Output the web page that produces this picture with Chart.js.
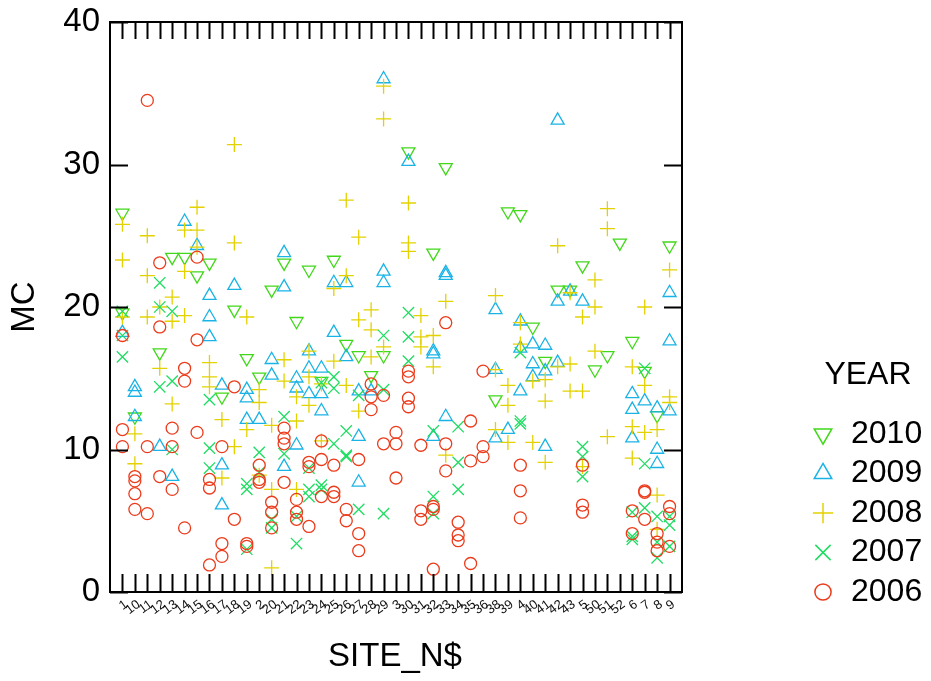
<!DOCTYPE html>
<html>
<head>
<meta charset="utf-8">
<script src="https://cdn.jsdelivr.net/npm/chart.js@4.4.1/dist/chart.umd.min.js"></script>
<style>
  html, body { margin: 0; padding: 0; background: #fff; }
  canvas { display: block; }
</style>
</head>
<body>
<canvas id="c" width="931" height="681" style="width:931px;height:681px"></canvas>
<script>
// Site codes in the order they appear along the axis (string sort)
const sites = ['1','10','11','12','13','14','15','16','17','18','19','2','20','21','22','23','24','25','26','27','28','29','3','30','31','32','33','34','35','36','38','39','4','40','41','42','43','5','50','51','52','6','7','8','9'];
const yTicks = [0, 10, 20, 30, 40];
const years = ['2010', '2009', '2008', '2007', '2006'];

// MC readings per year: [site, value]
const mc2010 = [['1',26.6],['1',19.6],['10',12.3],['12',16.8],['13',23.5],['14',23.5],['15',22.2],['16',23.1],['17',13.7],['18',19.8],['19',16.4],['2',15.1],['20',21.2],['21',23.1],['22',19.0],['23',22.6],['24',14.8],['25',23.3],['26',17.4],['27',16.6],['28',15.2],['29',16.6],['30',30.9],['32',23.8],['33',29.8],['38',13.5],['39',26.7],['4',26.5],['40',18.6],['41',16.2],['42',21.2],['43',21.2],['5',22.9],['50',15.6],['51',16.6],['52',24.5],['6',17.6],['7',15.5],['8',12.4],['9',24.3]];

const mc2009 = [['1',18.2],['10',14.4],['10',14.0],['10',12.3],['12',10.2],['13',8.1],['14',26.0],['15',24.3],['16',20.8],['16',19.3],['16',17.9],['17',14.5],['17',8.9],['17',6.1],['18',21.5],['19',14.2],['19',13.6],['19',12.1],['2',12.1],['20',16.3],['20',15.2],['21',23.8],['21',21.4],['21',8.8],['22',15.0],['22',14.3],['22',10.3],['23',16.9],['23',15.7],['23',13.9],['24',15.7],['24',13.9],['24',12.7],['25',21.7],['25',18.2],['26',21.7],['26',16.5],['27',14.1],['27',10.9],['27',7.7],['28',14.1],['29',36.0],['29',22.5],['29',21.7],['30',30.2],['32',16.9],['32',16.7],['32',10.9],['33',22.4],['33',22.2],['33',12.3],['38',19.8],['38',15.6],['38',10.8],['39',11.4],['4',19.0],['4',17.1],['4',14.1],['40',17.4],['40',16.0],['40',15.1],['41',17.3],['41',15.5],['41',10.2],['42',33.1],['42',20.4],['42',16.1],['43',21.1],['5',20.4],['6',13.9],['6',12.8],['6',10.8],['7',13.4],['8',12.9],['8',10.0],['8',9.0],['9',21.0],['9',17.6],['9',12.7]];

const mc2008 = [['1',25.8],['1',23.3],['1',19.3],['10',11.1],['10',9.0],['11',25.0],['11',22.2],['11',19.3],['12',20.0],['12',15.7],['13',20.7],['13',19.0],['13',13.2],['14',25.4],['14',22.5],['14',19.4],['15',27.0],['15',25.4],['15',24.2],['16',16.1],['16',15.1],['16',14.4],['17',12.1],['17',8.0],['18',31.4],['18',24.5],['18',10.2],['19',19.3],['19',11.4],['2',14.2],['2',13.3],['2',8.2],['20',11.7],['20',7.2],['20',1.7],['21',16.3],['21',14.8],['22',13.7],['22',12.0],['22',7.2],['23',16.9],['23',15.1],['23',13.1],['24',14.6],['24',10.6],['25',21.3],['25',16.2],['26',27.5],['26',22.2],['26',14.5],['27',24.9],['27',19.1],['27',12.7],['28',19.8],['28',18.4],['28',16.5],['29',35.5],['29',33.2],['29',17.2],['30',27.3],['30',24.5],['30',23.9],['31',19.4],['31',17.9],['31',17.2],['32',18.0],['32',15.8],['33',20.4],['33',9.6],['38',20.8],['38',15.6],['38',11.4],['39',14.5],['39',13.1],['39',10.5],['4',18.9],['4',17.4],['40',14.8],['40',10.5],['41',14.9],['41',13.4],['41',9.1],['42',24.3],['42',15.8],['43',21.0],['43',16.0],['43',14.1],['5',19.3],['5',14.1],['5',8.8],['50',21.9],['50',20.0],['50',16.9],['51',26.9],['51',25.5],['51',10.9],['6',15.8],['6',11.6],['6',9.4],['7',20.0],['7',14.5],['7',11.2],['8',11.4],['8',6.8],['8',4.4],['9',22.6],['9',13.7],['9',13.3]];

const mc2007 = [['1',19.7],['1',18.0],['1',16.5],['12',21.7],['12',20.0],['12',14.4],['13',19.7],['13',14.8],['13',10.0],['16',13.5],['16',10.1],['16',8.7],['19',7.6],['19',7.2],['19',3.0],['2',9.8],['2',8.4],['20',5.1],['20',4.5],['21',12.3],['21',9.7],['22',5.3],['22',3.4],['23',8.7],['23',7.2],['23',6.7],['24',14.7],['24',7.5],['24',7.2],['25',15.1],['25',14.3],['25',10.4],['26',11.3],['26',9.6],['26',9.5],['27',13.8],['27',5.8],['29',18.0],['29',14.2],['29',5.5],['30',19.6],['30',17.9],['30',16.2],['32',11.3],['32',6.7],['32',5.5],['34',11.6],['34',9.1],['34',7.2],['4',16.8],['4',12.0],['4',11.8],['5',10.2],['5',9.5],['5',8.1],['6',5.6],['6',3.9],['6',3.7],['7',15.7],['7',9.0],['7',5.9],['8',5.3],['8',3.5],['8',2.4],['9',5.3],['9',4.7],['9',3.2]];

const mc2006 = [['1',18.0],['1',11.4],['1',10.2],['10',8.1],['10',7.8],['10',6.9],['10',5.8],['11',34.5],['11',10.2],['11',5.5],['12',23.1],['12',18.6],['12',8.1],['13',11.5],['13',10.2],['13',7.2],['14',15.7],['14',14.8],['14',4.5],['15',23.5],['15',17.7],['15',11.2],['16',7.9],['16',7.3],['16',1.9],['17',10.2],['17',3.4],['17',2.5],['18',14.4],['18',5.1],['19',3.4],['19',3.2],['2',8.9],['2',7.9],['2',7.7],['20',6.3],['20',5.6],['20',4.5],['21',11.5],['21',10.8],['21',10.4],['21',7.7],['22',6.5],['22',5.6],['22',5.1],['23',9.1],['23',8.8],['23',4.6],['24',10.6],['24',9.3],['24',6.7],['25',8.9],['25',7.0],['25',6.7],['26',5.8],['26',5.0],['27',9.3],['27',4.1],['27',2.9],['28',14.6],['28',13.7],['28',12.8],['29',13.8],['29',10.4],['3',11.2],['3',10.4],['3',8.0],['30',15.5],['30',15.1],['30',13.6],['30',13.0],['31',10.3],['31',5.7],['31',5.1],['32',6.0],['32',5.8],['32',1.6],['33',18.9],['33',10.4],['33',8.5],['34',4.9],['34',4.0],['34',3.6],['35',12.0],['35',9.2],['35',2.0],['36',15.5],['36',10.2],['36',9.5],['4',8.9],['4',7.1],['4',5.2],['5',8.9],['5',6.1],['5',5.6],['6',5.7],['6',4.1],['7',7.1],['7',7.0],['7',5.1],['8',4.1],['8',3.5],['8',2.9],['9',6.0],['9',5.5],['9',3.2]];

// Marker look per year
const markerColor = { '2010': '#42d81a', '2009': '#1ab3e6', '2008': '#e3d200', '2007': '#1fdd62', '2006': '#ec3b1b' };
const markerShape = { '2010': 'triangle', '2009': 'triangle', '2008': 'cross', '2007': 'crossRot', '2006': 'circle' };
const markerTurn  = { '2010': 180, '2009': 0, '2008': 0, '2007': 0, '2006': 0 };
const markerSize  = { '2010': 7.5, '2009': 7.5, '2008': 7.5, '2007': 8, '2006': 6 };
const seriesByYear = { '2010': mc2010, '2009': mc2009, '2008': mc2008, '2007': mc2007, '2006': mc2006 };

const FONT = '"Liberation Sans", Arial, Helvetica, sans-serif';

const toPoints = rows => rows.map(([s, v]) => ({ x: sites.indexOf(s), y: v }));

const datasets = years.slice().reverse().map(yr => ({
  label: yr,
  data: toPoints(seriesByYear[yr]),
  pointStyle: markerShape[yr],
  pointRotation: markerTurn[yr],
  pointRadius: markerSize[yr],
  pointHoverRadius: markerSize[yr],
  borderColor: markerColor[yr],
  backgroundColor: 'rgba(0,0,0,0)',
  pointBorderWidth: 1.3,
  showLine: false
}));

// Boxed frame with inward ticks, rotated site labels, axis titles and the key
const framePlugin = {
  id: 'frame',
  afterDraw(chart) {
    const { ctx, chartArea: a, scales: { x, y } } = chart;
    ctx.save();
    ctx.strokeStyle = '#000';
    ctx.lineWidth = 2;
    ctx.strokeRect(a.left, a.top, a.right - a.left, a.bottom - a.top);
    ctx.beginPath();
    sites.forEach((s, i) => {
      const px = Math.round(x.getPixelForValue(i)) + 0.5;
      ctx.moveTo(px, a.bottom); ctx.lineTo(px, a.bottom - 18);
      ctx.moveTo(px, a.top); ctx.lineTo(px, a.top + 17);
    });
    yTicks.forEach(v => {
      const py = Math.round(y.getPixelForValue(v)) + 0.5;
      ctx.moveTo(a.left, py); ctx.lineTo(a.left + 18, py);
      ctx.moveTo(a.right, py); ctx.lineTo(a.right - 18, py);
    });
    ctx.stroke();

    // site labels
    ctx.fillStyle = '#111';
    ctx.font = '13px ' + FONT;
    ctx.textAlign = 'right';
    ctx.textBaseline = 'middle';
    sites.forEach((s, i) => {
      const px = x.getPixelForValue(i);
      ctx.save();
      ctx.translate(px + 4, a.bottom + 11);
      ctx.rotate(-Math.PI / 5);
      ctx.fillText(s, 0, 0);
      ctx.restore();
    });

    // axis titles
    ctx.fillStyle = '#000';
    ctx.font = '33px ' + FONT;
    ctx.textAlign = 'center';
    ctx.textBaseline = 'middle';
    ctx.fillText('SITE_N$', 395, 657);
    ctx.save();
    ctx.translate(25, 307);
    ctx.rotate(-Math.PI / 2);
    ctx.fillText('MC', 0, 0);
    ctx.restore();

    // key
    ctx.font = '32px ' + FONT;
    ctx.fillText('YEAR', 868, 375);
    ctx.textAlign = 'left';
    years.forEach((yr, k) => {
      const cy = 434 + k * 39.5;
      ctx.fillStyle = '#000';
      ctx.fillText(yr, 851, cy);
      ctx.strokeStyle = markerColor[yr];
      ctx.fillStyle = 'rgba(0,0,0,0)';
      ctx.lineWidth = 1.5;
      Chart.helpers.drawPoint(ctx, {
        pointStyle: markerShape[yr],
        rotation: markerTurn[yr],
        radius: markerSize[yr] * 1.35,
        borderWidth: 1.5
      }, 823, cy);
    });
    ctx.restore();
  }
};

new Chart(document.getElementById('c'), {
  type: 'scatter',
  data: { datasets },
  options: {
    responsive: false,
    animation: false,
    events: [],
    layout: { padding: { top: 22, right: 249, bottom: 0, left: 0 } },
    plugins: { legend: { display: false }, tooltip: { enabled: false } },
    scales: {
      x: {
        type: 'linear',
        min: -1,
        max: sites.length,
        grid: { display: false, drawTicks: false },
        border: { display: false },
        ticks: { display: false },
        afterFit: s => { s.height = 89; }
      },
      y: {
        min: 0,
        max: 40,
        grid: { display: false, drawTicks: false },
        border: { display: false },
        ticks: {
          stepSize: 10,
          padding: 10,
          color: '#000',
          font: { family: FONT, size: 33, lineHeight: 0.6 }
        },
        afterFit: s => { s.width = 110; }
      }
    }
  },
  plugins: [framePlugin]
});
</script>
</body>
</html>
